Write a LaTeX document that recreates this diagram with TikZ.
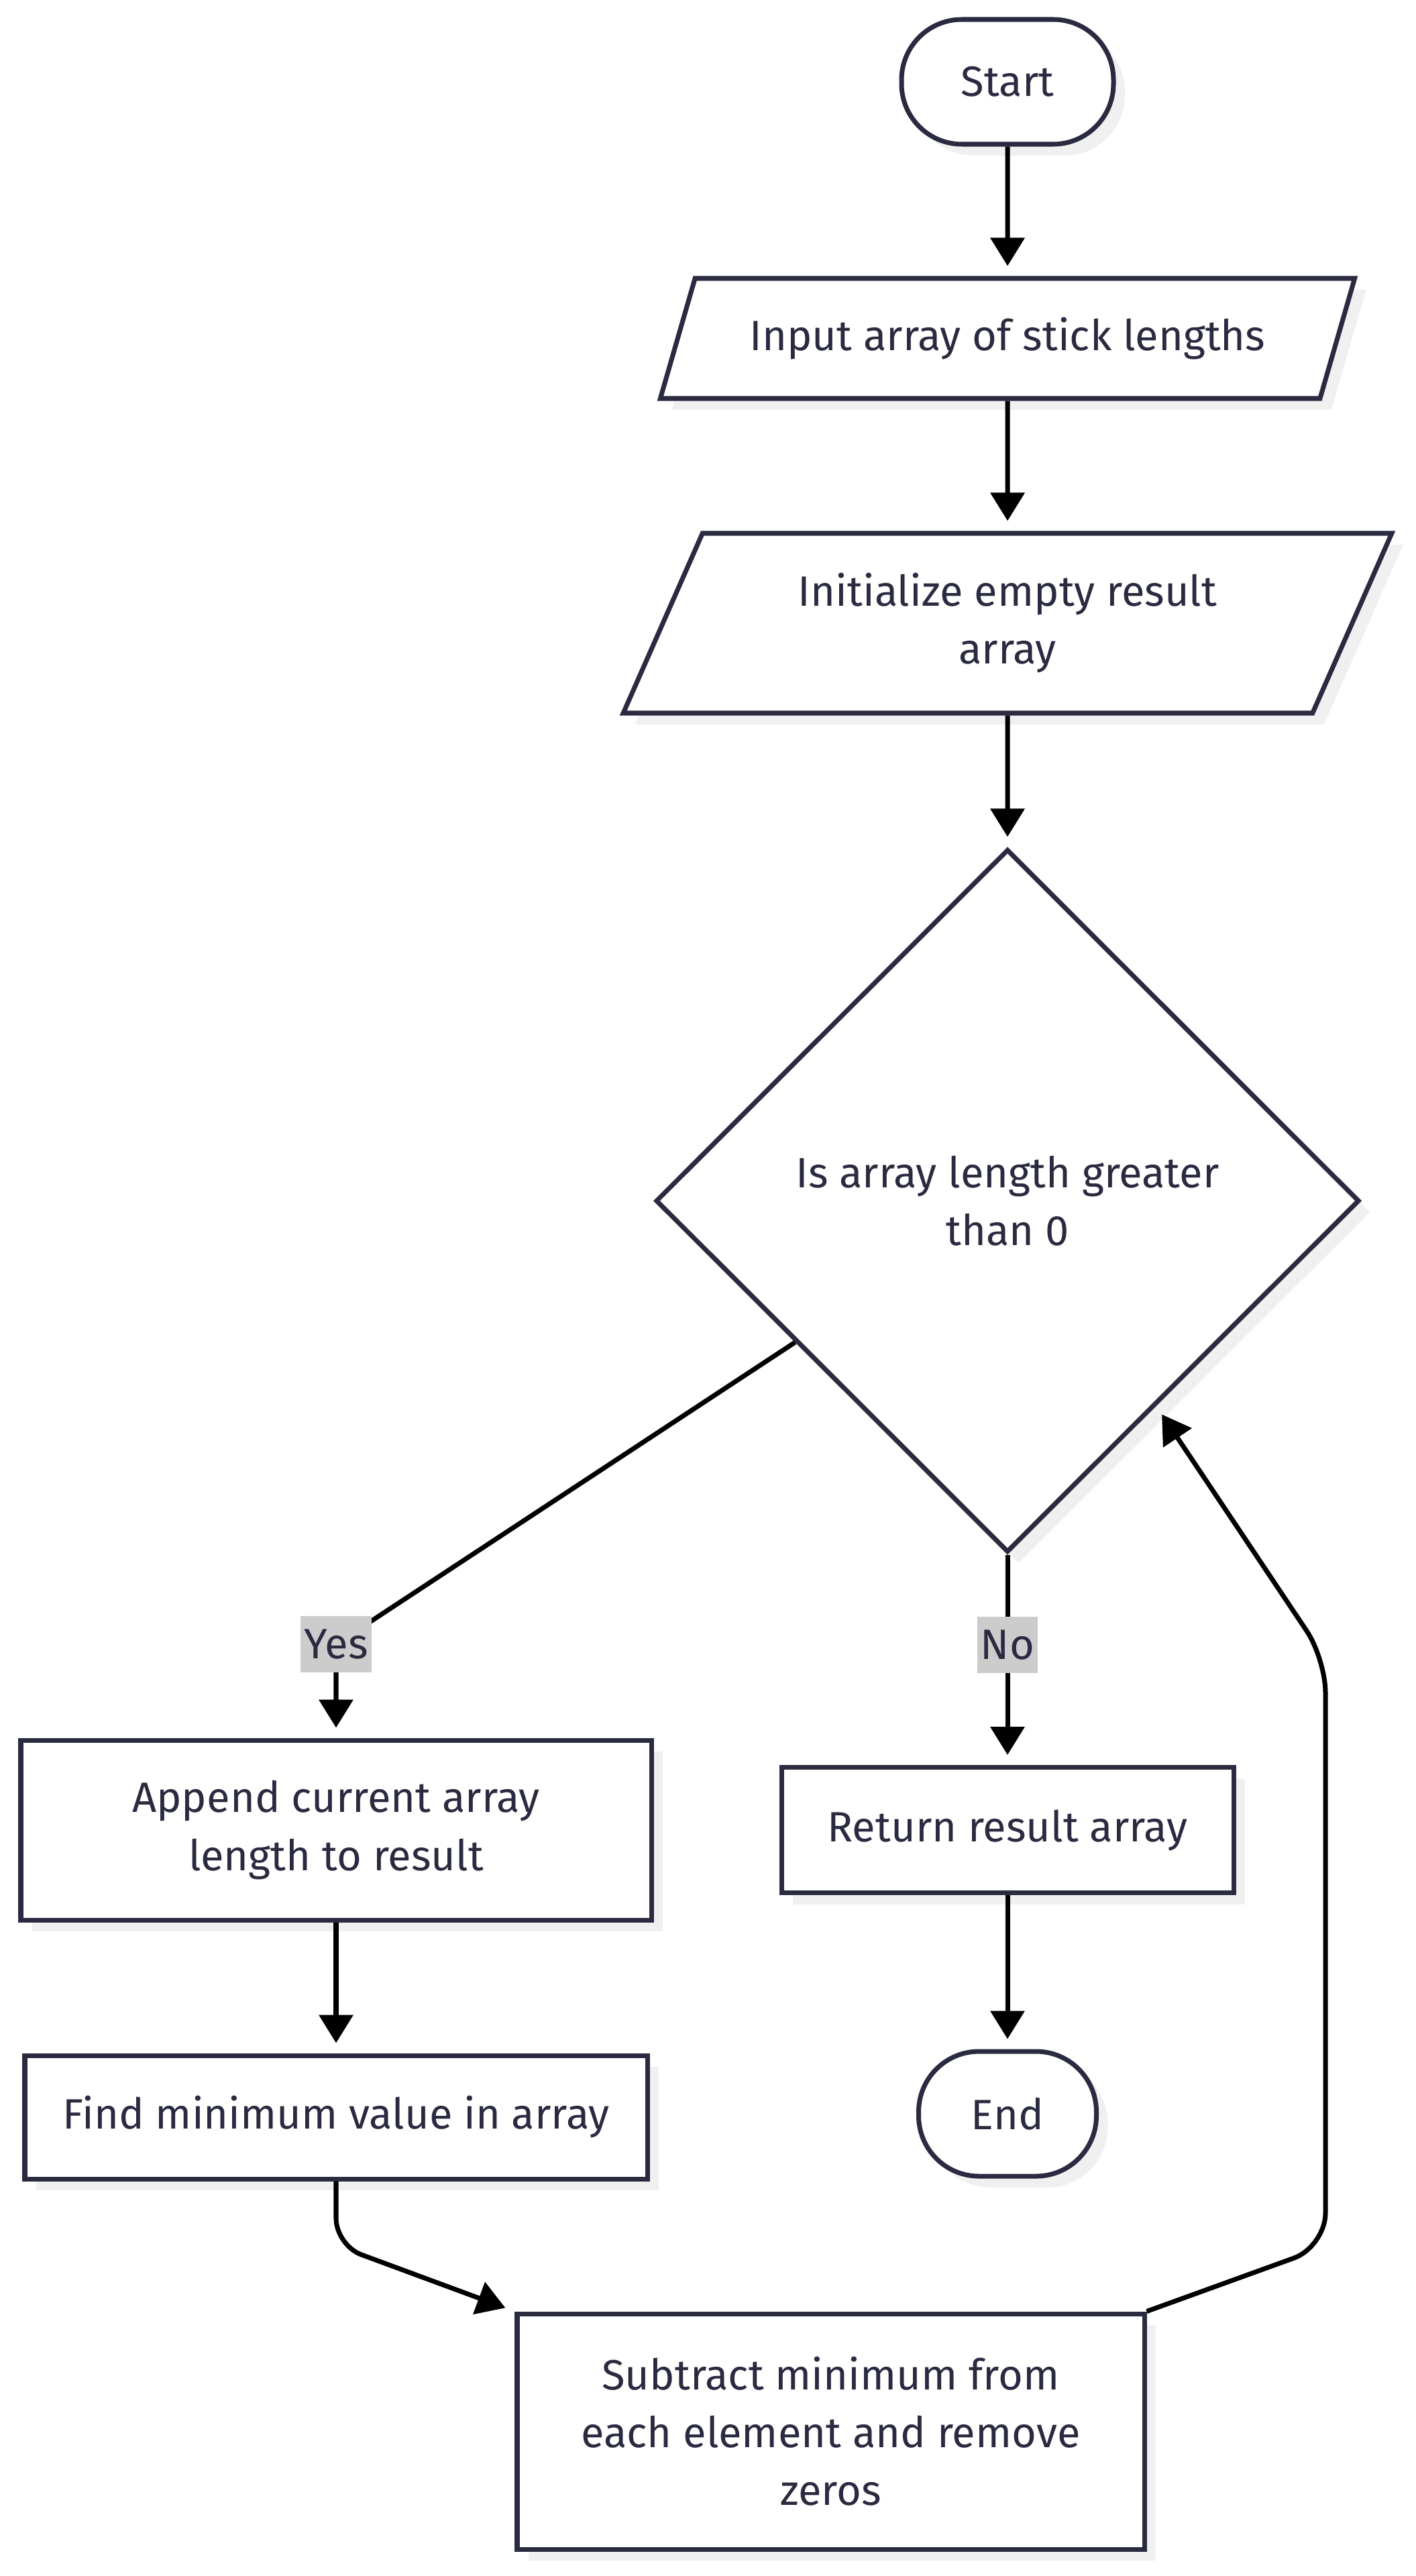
\documentclass[tikz,border=0pt]{standalone}
\usepackage{fontspec}
\setmainfont{Fira Sans}
\usetikzlibrary{arrows.meta,shapes.geometric,shadows,calc}
\definecolor{ink}{RGB}{42,42,64}
\definecolor{lblgray}{RGB}{204,204,204}
\definecolor{shade}{RGB}{240,240,240}

\tikzset{
	base/.style={draw=ink, line width=2pt, fill=white, text=ink, align=center,
		font=\fontsize{18}{24.5}\selectfont,
		drop shadow={shadow xshift=0.17cm, shadow yshift=-0.17cm, fill=shade, opacity=1}},
	terminal/.style={base, rectangle, rounded corners=0.9cm, minimum height=1.86cm},
	io/.style={base, trapezium, trapezium left angle=63, trapezium right angle=117, trapezium stretches=true},
	process/.style={base, rectangle},
	decision/.style={base, diamond, minimum width=10.49cm, minimum height=10.48cm},
	flow/.style={-{Triangle[width=0.5cm,length=0.42cm]}, line width=2pt, shorten >=0.15cm},
	lbl/.style={sharp corners, fill=lblgray, text=ink, font=\fontsize{18}{24.5}\selectfont, inner xsep=0.05cm, inner ysep=0pt, minimum height=0.84cm}
}

\begin{document}
\begin{tikzpicture}
	\useasboundingbox (0,0) rectangle (21.11,-38.40);

	% main column
	\node[terminal, minimum width=3.16cm] (start) at (15.02,-1.22) {Start};
	\node[io, minimum width=10.38cm, minimum height=1.79cm] (input) at (15.02,-5.045) {Input array of stick lengths};
	\node[io, trapezium left angle=64, trapezium right angle=116, minimum width=11.47cm, minimum height=2.68cm] (init) at (15.02,-9.29) {Initialize empty result\\array};
	\node[decision] (dec) at (15.02,-17.90) {Is array length greater\\than 0};

	% branches
	\node[process, minimum width=9.4cm, minimum height=2.68cm] (append) at (5.01,-27.28) {Append current array\\length to result};
	\node[process, minimum width=9.28cm, minimum height=1.84cm] (find) at (5.01,-31.56) {Find minimum value in array};
	\node[process, minimum width=6.74cm, minimum height=1.87cm] (ret) at (15.02,-27.28) {Return result array};
	\node[terminal, minimum width=2.65cm] (end) at (15.02,-31.51) {End};
	\node[process, minimum width=9.35cm, minimum height=3.51cm] (sub) at (12.385,-36.245) {Subtract minimum from\\each element and remove\\zeros};

	\draw[flow] (start) -- (input);
	\draw[flow] (input) -- (init);
	\draw[flow] (init) -- (dec);

	\coordinate (yesbend) at (5.01,-24.51);
	\draw[flow, rounded corners=0.3cm] ($(dec.west)!0.4!(dec.south)$) -- (yesbend) node[lbl] (yes) {Yes} -- (append.north);
	\draw[flow] (dec.south) -- node[lbl, pos=0.43] (no) {No} (ret.north);

	\draw[flow] (append) -- (find);
	\draw[flow] (ret) -- (end);

	\coordinate (findbend) at (5.01,-33.47);
	\draw[flow, rounded corners=0.4cm] (find.south) -- (findbend) -- (sub.north west);

	% loop back
	\coordinate (loopbottom) at (19.76,-33.49);
	\coordinate (looptop) at (19.76,-24.73);
	\draw[flow, rounded corners=0.5cm] (sub.north east) -- (loopbottom) -- (looptop) -- ($(dec.east)!0.58!(dec.south)$);
\end{tikzpicture}
\end{document}
